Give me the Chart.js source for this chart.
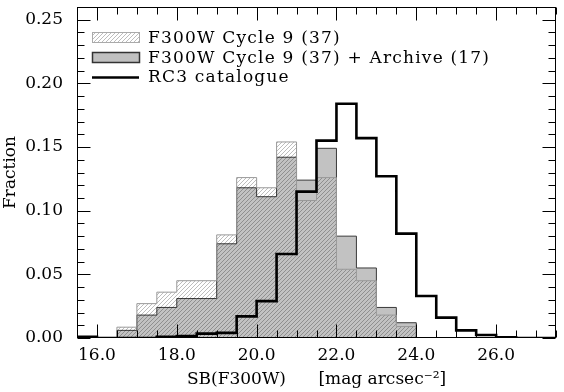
<!DOCTYPE html>
<html>
<head>
<meta charset="utf-8">
<script src="https://cdn.jsdelivr.net/npm/chart.js@4/dist/chart.umd.min.js"></script>
<style>
  html, body { margin: 0; padding: 0; background: #fff; }
  #sb-hist { display: block; }
</style>
</head>
<body>
<canvas id="sb-hist" width="564" height="392"></canvas>
<script>
// lower edges of the 0.5 mag bins
var binStarts = [15.5, 16.0, 16.5, 17.0, 17.5, 18.0, 18.5, 19.0, 19.5, 20.0, 20.5, 21.0,
                 21.5, 22.0, 22.5, 23.0, 23.5, 24.0, 24.5, 25.0, 25.5, 26.0, 26.5, 27.0];
var binEnd = 27.5;

var cycle9 = [0, 0, 0.0085, 0.027, 0.036, 0.045, 0.045, 0.081, 0.126, 0.118, 0.154, 0.108,
              0.126, 0.054, 0.045, 0.018, 0.009, 0, 0, 0, 0, 0, 0, 0];
var cycle9Archive = [0, 0, 0.006, 0.018, 0.024, 0.031, 0.031, 0.074, 0.118, 0.111, 0.142, 0.124,
                     0.149, 0.080, 0.055, 0.024, 0.012, 0, 0, 0, 0, 0, 0, 0];
var rc3 = [0.001, 0, 0, 0, 0.001, 0.0015, 0.0034, 0.004, 0.017, 0.029, 0.066, 0.115,
           0.155, 0.184, 0.157, 0.127, 0.082, 0.033, 0.016, 0.006, 0.0024, 0.0005, 0, 0];

var xTickValues = [16, 18, 20, 22, 24, 26];
var yTickValues = [0, 0.05, 0.10, 0.15, 0.20, 0.25];

var legendLabels = ['F300W Cycle 9 (37)', 'F300W Cycle 9 (37) + Archive (17)', 'RC3 catalogue'];

// step points: left edge of every bin plus the closing right edge
function toSteps(values) {
    var pts = binStarts.map((x, i) => ({x: x, y: values[i]}));
    pts.push({x: binEnd, y: values[values.length - 1]});
    return pts;
}

function makeHatch() {
    var c = document.createElement('canvas');
    c.width = 4; c.height = 4;
    var g = c.getContext('2d');
    g.strokeStyle = 'rgba(0,0,0,0.26)';
    g.lineWidth = 1;
    g.beginPath();
    g.moveTo(0, 4); g.lineTo(4, 0);
    g.moveTo(-1, 1); g.lineTo(1, -1);
    g.moveTo(3, 5); g.lineTo(5, 3);
    g.stroke();
    return g.createPattern(c, 'repeat');
}
var hatch = makeHatch();

var FONT = "'DejaVu Serif', serif";
Chart.defaults.font.family = FONT;
Chart.defaults.font.size = 17;
Chart.defaults.color = '#000';

// box frame with inward ticks on all four sides
var frameTicks = {
    id: 'frameTicks',
    afterDatasetsDraw(chart) {
        var ctx = chart.ctx, a = chart.chartArea;
        var xs = chart.scales.x, ys = chart.scales.y;
        var L = Math.round(a.left) + 0.5, R = Math.round(a.right) - 0.5;
        var T = Math.round(a.top) + 0.5, B = Math.round(a.bottom) - 0.5;
        ctx.save();
        ctx.strokeStyle = '#000';
        ctx.lineWidth = 1;
        ctx.beginPath();
        for (var v = 15.5; v <= 27.5001; v += 0.5) {
            var px = Math.round(xs.getPixelForValue(v)) + 0.5;
            var len = Math.abs(v / 2 - Math.round(v / 2)) < 1e-6 ? 13 : 7;
            ctx.moveTo(px, B); ctx.lineTo(px, B - len);
            ctx.moveTo(px, T); ctx.lineTo(px, T + len);
        }
        for (var k = 0; k <= 26; k++) {
            var py = Math.round(ys.getPixelForValue(k / 100)) + 0.5;
            var len2 = k % 5 === 0 ? 13 : 7;
            ctx.moveTo(L, py); ctx.lineTo(L + len2, py);
            ctx.moveTo(R, py); ctx.lineTo(R - len2, py);
        }
        ctx.stroke();
        ctx.strokeRect(L, T, R - L, B - T);
        ctx.restore();
    }
};

var insideLegend = {
    id: 'insideLegend',
    afterDraw(chart) {
        var ctx = chart.ctx;
        var x0 = 92, w = 47, tx = 148;
        ctx.save();
        // hatched swatch
        ctx.fillStyle = hatch;
        ctx.fillRect(x0, 32, w, 10);
        ctx.strokeStyle = '#aaa';
        ctx.lineWidth = 1;
        ctx.strokeRect(x0 + 0.5, 32.5, w, 10);
        // grey swatch
        ctx.fillStyle = '#c0c0c0';
        ctx.fillRect(x0, 52, w, 10);
        ctx.strokeStyle = '#333';
        ctx.lineWidth = 1.5;
        ctx.strokeRect(x0 + 0.5, 52.5, w, 10);
        // RC3 line
        ctx.strokeStyle = '#000';
        ctx.lineWidth = 2.5;
        ctx.beginPath();
        ctx.moveTo(x0, 77.5); ctx.lineTo(x0 + w, 77.5);
        ctx.stroke();
        ctx.fillStyle = '#000';
        ctx.font = '17px ' + FONT;
        ctx.letterSpacing = '1.2px';
        ctx.textBaseline = 'alphabetic';
        ctx.fillText(legendLabels[0], tx, 43);
        ctx.fillText(legendLabels[1], tx, 63);
        ctx.fillText(legendLabels[2], tx, 82);
        ctx.restore();
    }
};

new Chart(document.getElementById('sb-hist'), {
    type: 'line',
    data: {
        datasets: [{
            label: legendLabels[1],
            data: toSteps(cycle9Archive),
            stepped: true,
            fill: 'origin',
            backgroundColor: '#c2c2c2',
            borderColor: '#3a3a3a',
            borderWidth: 1,
            pointRadius: 0,
            order: 3
        }, {
            label: legendLabels[0],
            data: toSteps(cycle9),
            stepped: true,
            fill: 'origin',
            backgroundColor: hatch,
            borderColor: '#999',
            borderWidth: 1,
            pointRadius: 0,
            order: 2
        }, {
            label: legendLabels[2],
            data: toSteps(rc3),
            stepped: true,
            fill: false,
            borderColor: '#000',
            borderWidth: 2.6,
            pointRadius: 0,
            order: 1
        }]
    },
    options: {
        responsive: false,
        animation: false,
        events: [],
        layout: { padding: { top: 7, right: 8, left: 0, bottom: 0 } },
        plugins: {
            legend: { display: false },
            tooltip: { enabled: false }
        },
        scales: {
            x: {
                type: 'linear',
                min: 15.5,
                max: 27.5,
                grid: { display: false, drawTicks: false },
                border: { display: false },
                afterBuildTicks: function (scale) {
                    scale.ticks = xTickValues.map(v => ({value: v}));
                },
                afterFit: function (scale) {
                    scale.height = 54;
                    scale.paddingLeft = 0;
                    scale.paddingRight = 0;
                },
                ticks: {
                    autoSkip: false,
                    maxRotation: 0,
                    padding: 7,
                    callback: function (value) { return Number(value).toFixed(1); }
                },
                title: {
                    display: true,
                    text: 'SB(F300W)      [mag arcsec\u207B\u00B2]',
                    padding: { top: 0, bottom: 2 }
                }
            },
            y: {
                min: 0,
                max: 0.26,
                grid: { display: false, drawTicks: false },
                border: { display: false },
                afterBuildTicks: function (scale) {
                    scale.ticks = yTickValues.map(v => ({value: v}));
                },
                afterFit: function (scale) {
                    scale.width = 77;
                    scale.paddingTop = 0;
                    scale.paddingBottom = 0;
                },
                ticks: {
                    padding: 14,
                    callback: function (value) { return Number(value).toFixed(2); }
                },
                title: {
                    display: true,
                    text: 'Fraction',
                    padding: { top: 0, bottom: 0 }
                }
            }
        }
    },
    plugins: [frameTicks, insideLegend]
});
</script>
</body>
</html>
